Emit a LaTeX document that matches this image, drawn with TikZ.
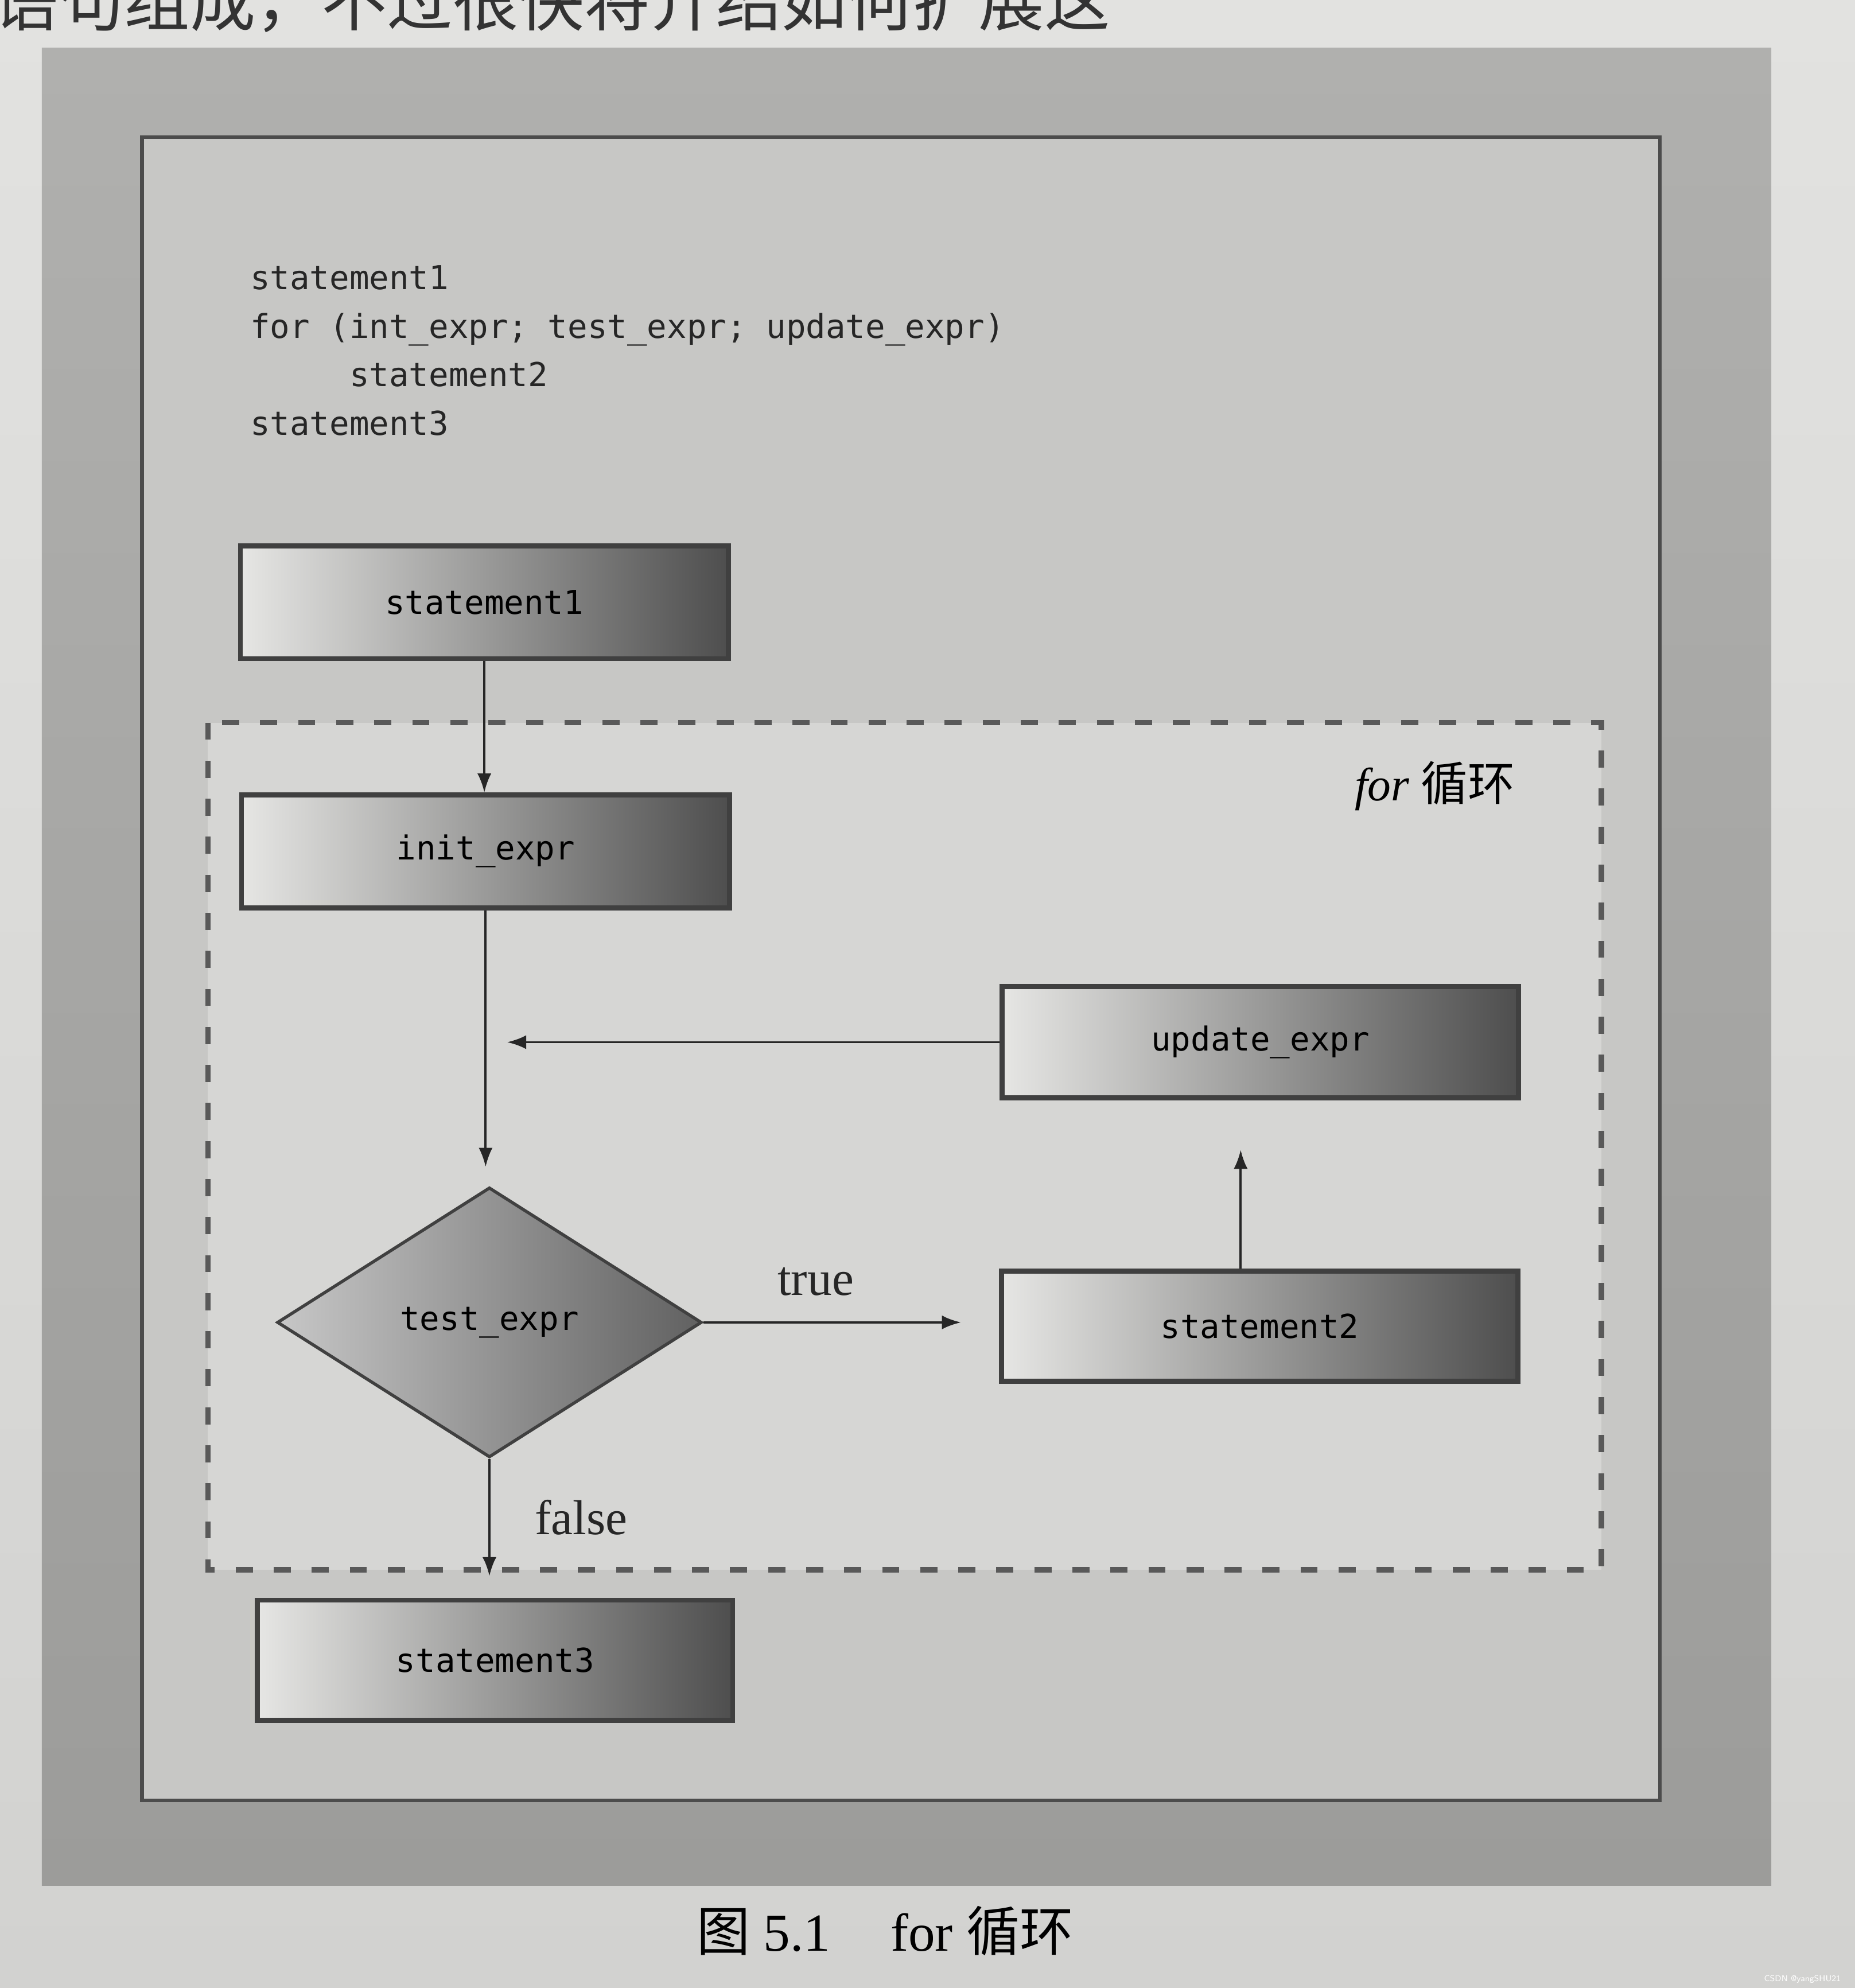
\documentclass[tikz,border=0pt]{standalone}
\usepackage{fontspec}
\setmainfont{Liberation Serif}
\setmonofont{DejaVu Sans Mono}
\newfontfamily\cjk{Noto Sans CJK SC}
\usetikzlibrary{arrows.meta,shapes.geometric,positioning,calc}
\definecolor{paper}{RGB}{210,210,208}
\definecolor{paperlt}{RGB}{226,226,224}
\definecolor{bandlt}{RGB}{176,176,174}
\definecolor{banddk}{RGB}{156,156,154}
\definecolor{panel}{RGB}{199,199,197}
\definecolor{loopbg}{RGB}{214,214,212}
\definecolor{boxlt}{RGB}{230,230,228}
\definecolor{boxdk}{RGB}{78,78,78}

\begin{document}
\begin{tikzpicture}[
    x=0.02cm, y=-0.02cm,
    stmt/.style={draw=black!75, line width=2.2pt, left color=boxlt, right color=boxdk,
      minimum width=7.7cm, minimum height=1.78cm, inner sep=0pt,
      font=\ttfamily\fontsize{14.8}{18}\selectfont},
    cond/.style={diamond, draw=black!75, line width=1.4pt, left color=black!22, right color=black!62,
      minimum width=6.7cm, minimum height=4.26cm, aspect=1.57, inner sep=0pt,
      font=\ttfamily\fontsize{14.8}{18}\selectfont},
    code/.style={align=left, inner sep=0pt, text=black!85, font=\ttfamily\fontsize{14.8}{21.8}\selectfont},
    lbl/.style={inner sep=0pt, font=\fontsize{22}{26}\selectfont},
    arr/.style={-{Latex[length=0.3cm,width=0.22cm]}, line width=1pt, black!85}
]
\useasboundingbox (0,0) rectangle (1463,1568);
% page, frame and panels
\shade[top color=paperlt, bottom color=paper] (0,0) rectangle (1463,1568);
\begin{scope}
  \clip (0,0) rectangle (1463,1568);
  \node[anchor=base west, inner sep=0pt, text=black!80, font=\cjk\fontsize{29.5}{32}\selectfont] (prev) at (-6,20) {语句组成，不过很快将介绍如何扩展这};
\end{scope}
\shade[top color=bandlt, bottom color=banddk] (33,38) rectangle (1397,1487);
\filldraw[fill=panel, draw=black!70, line width=1.6pt] (112,108) rectangle (1309,1420);
\filldraw[fill=loopbg, draw=black!65, line width=2.5pt, dash pattern=on 0.27cm off 0.33cm] (164,570) rectangle (1263,1238);

\node[code, anchor=north west] (src) at (197,209) {statement1\\for (int\_expr; test\_expr; update\_expr)\\\phantom{xxxxx}statement2\\statement3};
\node[lbl, anchor=east, font=\fontsize{21}{24}\selectfont] (looplbl) at (1195,620) {\textit{for} {\cjk 循环}};

% flowchart
\node[stmt] (s1) at (382,475) {statement1};
\node[stmt] (init) at (383,671.5) {init\_expr};
\node[stmt, minimum width=8.15cm, minimum height=1.76cm] (upd) at (994,822) {update\_expr};
\node[cond] (test) at (386,1043) {test\_expr};
\node[stmt, minimum width=8.15cm, minimum height=1.74cm] (s2) at (993.5,1046) {statement2};
\node[stmt, minimum width=7.5cm, minimum height=1.9cm] (s3) at (390.5,1309.5) {statement3};
\coordinate (join) at (init.south |- upd.west);

\draw[arr] (s1.south) -- (s1.south |- init.north);
\draw[arr, shorten >=0.3cm] (init.south) -- (init.south |- test.north);
\draw[arr, shorten >=0.34cm] (upd.west) -- (join);
\draw[arr, shorten >=0.6cm] (test.east) -- (test.east -| s2.west) node[lbl, pos=0.38, above=0.4cm] (tlab) {true};
\draw[arr, shorten >=0.78cm] ([xshift=-0.3cm]s2.north) -- ([xshift=-0.3cm]s2.north |- upd.south);
\draw[arr, shorten >=0.34cm] (test.south) -- (test.south |- s3.north) node[lbl, pos=0.42, right=0.7cm] (flab) {false};

\node[lbl, font=\fontsize{24}{28}\selectfont] (cap) at (698,1523) {{\cjk 图} 5.1\hspace{0.95cm}for {\cjk 循环}};
\node[anchor=east, inner sep=0pt, text=white, font=\sffamily\fontsize{3.8}{4}\selectfont] (wm) at (1452,1561) {CSDN @yangSHU21};
\end{tikzpicture}
\end{document}
